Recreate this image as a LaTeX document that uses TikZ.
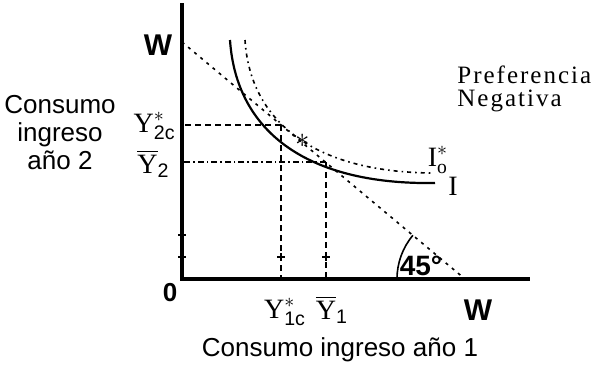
\documentclass[tikz,border=0pt]{standalone}
\usepackage{fontspec}
\setmainfont{Liberation Serif}
\setsansfont{Liberation Sans}
\newfontfamily\widefont[LetterSpace=8]{Liberation Serif}
\usetikzlibrary{positioning}

\begin{document}
\begin{tikzpicture}[
    x=0.5pt,y=-0.5pt,
    axis/.style={line width=2pt},
    budget/.style={line width=0.8pt,dash pattern=on 1.5pt off 2.5pt},
    guide/.style={line width=0.8pt,dash pattern=on 3pt off 2pt},
    guidedot/.style={line width=0.8pt,dash pattern=on 3pt off 1.5pt on 0.8pt off 1.5pt},
    curveI/.style={line width=1.1pt},
    curveIo/.style={line width=0.8pt,dash pattern=on 2pt off 2pt on 0.8pt off 2pt},
    tick/.style={line width=0.7pt},
    lbl/.style={font=\sffamily\fontsize{13}{14}\selectfont,inner sep=0pt,align=center},
    axlbl/.style={font=\sffamily\bfseries\fontsize{15}{17}\selectfont,inner sep=0pt},
    var/.style={font=\fontsize{14}{16}\selectfont,inner sep=0pt},
]
\useasboundingbox (0,0) rectangle (600,365);

% ===== Axes =====
\coordinate (O) at (182,279);
\coordinate (ytop) at (182,3);
\coordinate (xend) at (530,279);
\draw[axis] (ytop) -- (O) -- (xend);

% ===== Budget line and points =====
\coordinate (W2) at (182,42);
\coordinate (W1) at (465,279);
\coordinate (C) at (281,125);
\coordinate (E) at (326,162);
\draw[budget] (W2) -- (W1);

% ===== Indifference curves =====
\draw[curveI] (230,40) .. controls (236,130) and (305,185) .. (435,183);
\draw[curveIo] (245,40) .. controls (250,120) and (312,172) .. (432,173);

% ===== Projections =====
\draw[guide] (C) -- (C |- O);
\draw[guide] (C) -- (C -| O);
\draw[guide] (E) -- (E |- O);
\draw[guidedot] (E) -- (E -| O);

% small crosses
\foreach \p in {(182,235),(182,257),(281,257),(326,257)}
    \draw[tick] \p ++(-4,0) -- ++(8,0) \p ++(0,-4) -- ++(0,8);

% ===== 45 degree arc =====
\draw[line width=0.8pt] (W1) ++(180:68) arc[start angle=180,end angle=220,radius=68];
\node[axlbl,font=\sffamily\bfseries\fontsize{14}{16}\selectfont] (ang) at (421,266) {45°};

% tangency mark
\node[var] (star) at (303,141) {$\ast$};

% ===== Labels =====
\node[axlbl] (wy) at (158,45) {W};
\node[axlbl] (wx) at (478,310) {W};
\node[lbl,font=\sffamily\bfseries\fontsize{13}{14}\selectfont] (zero) at (170,293) {0};

\node[var,anchor=east] (y2c) at (176,126) {$\mathrm{Y}^{*}_{\mathsf{2c}}$};
\node[var,anchor=east] (y2) at (170,164) {$\overline{\mathrm{Y}}_{\mathsf{2}}$};
\node[var] (y1c) at (285,312) {$\mathrm{Y}^{*}_{\mathsf{1c}}$};
\node[var] (y1) at (332,310) {$\overline{\mathrm{Y}}_{\mathsf{1}}$};

\node[var] (io) at (438,160) {$\mathrm{I}^{*}_{\mathrm{o}}$};
\node[var] (ione) at (453,186) {I};

\node[lbl] (ejey) at (60,133) {Consumo\\ingreso\\año 2};
\node[lbl] (ejex) at (340,350) {Consumo ingreso año 1};

\node[anchor=north west,inner sep=0pt,align=left,
      font=\widefont\fontsize{12.5}{11.5}\selectfont] (pref) at (457,65)
    {Preferencia\\Negativa};

\end{tikzpicture}
\end{document}
